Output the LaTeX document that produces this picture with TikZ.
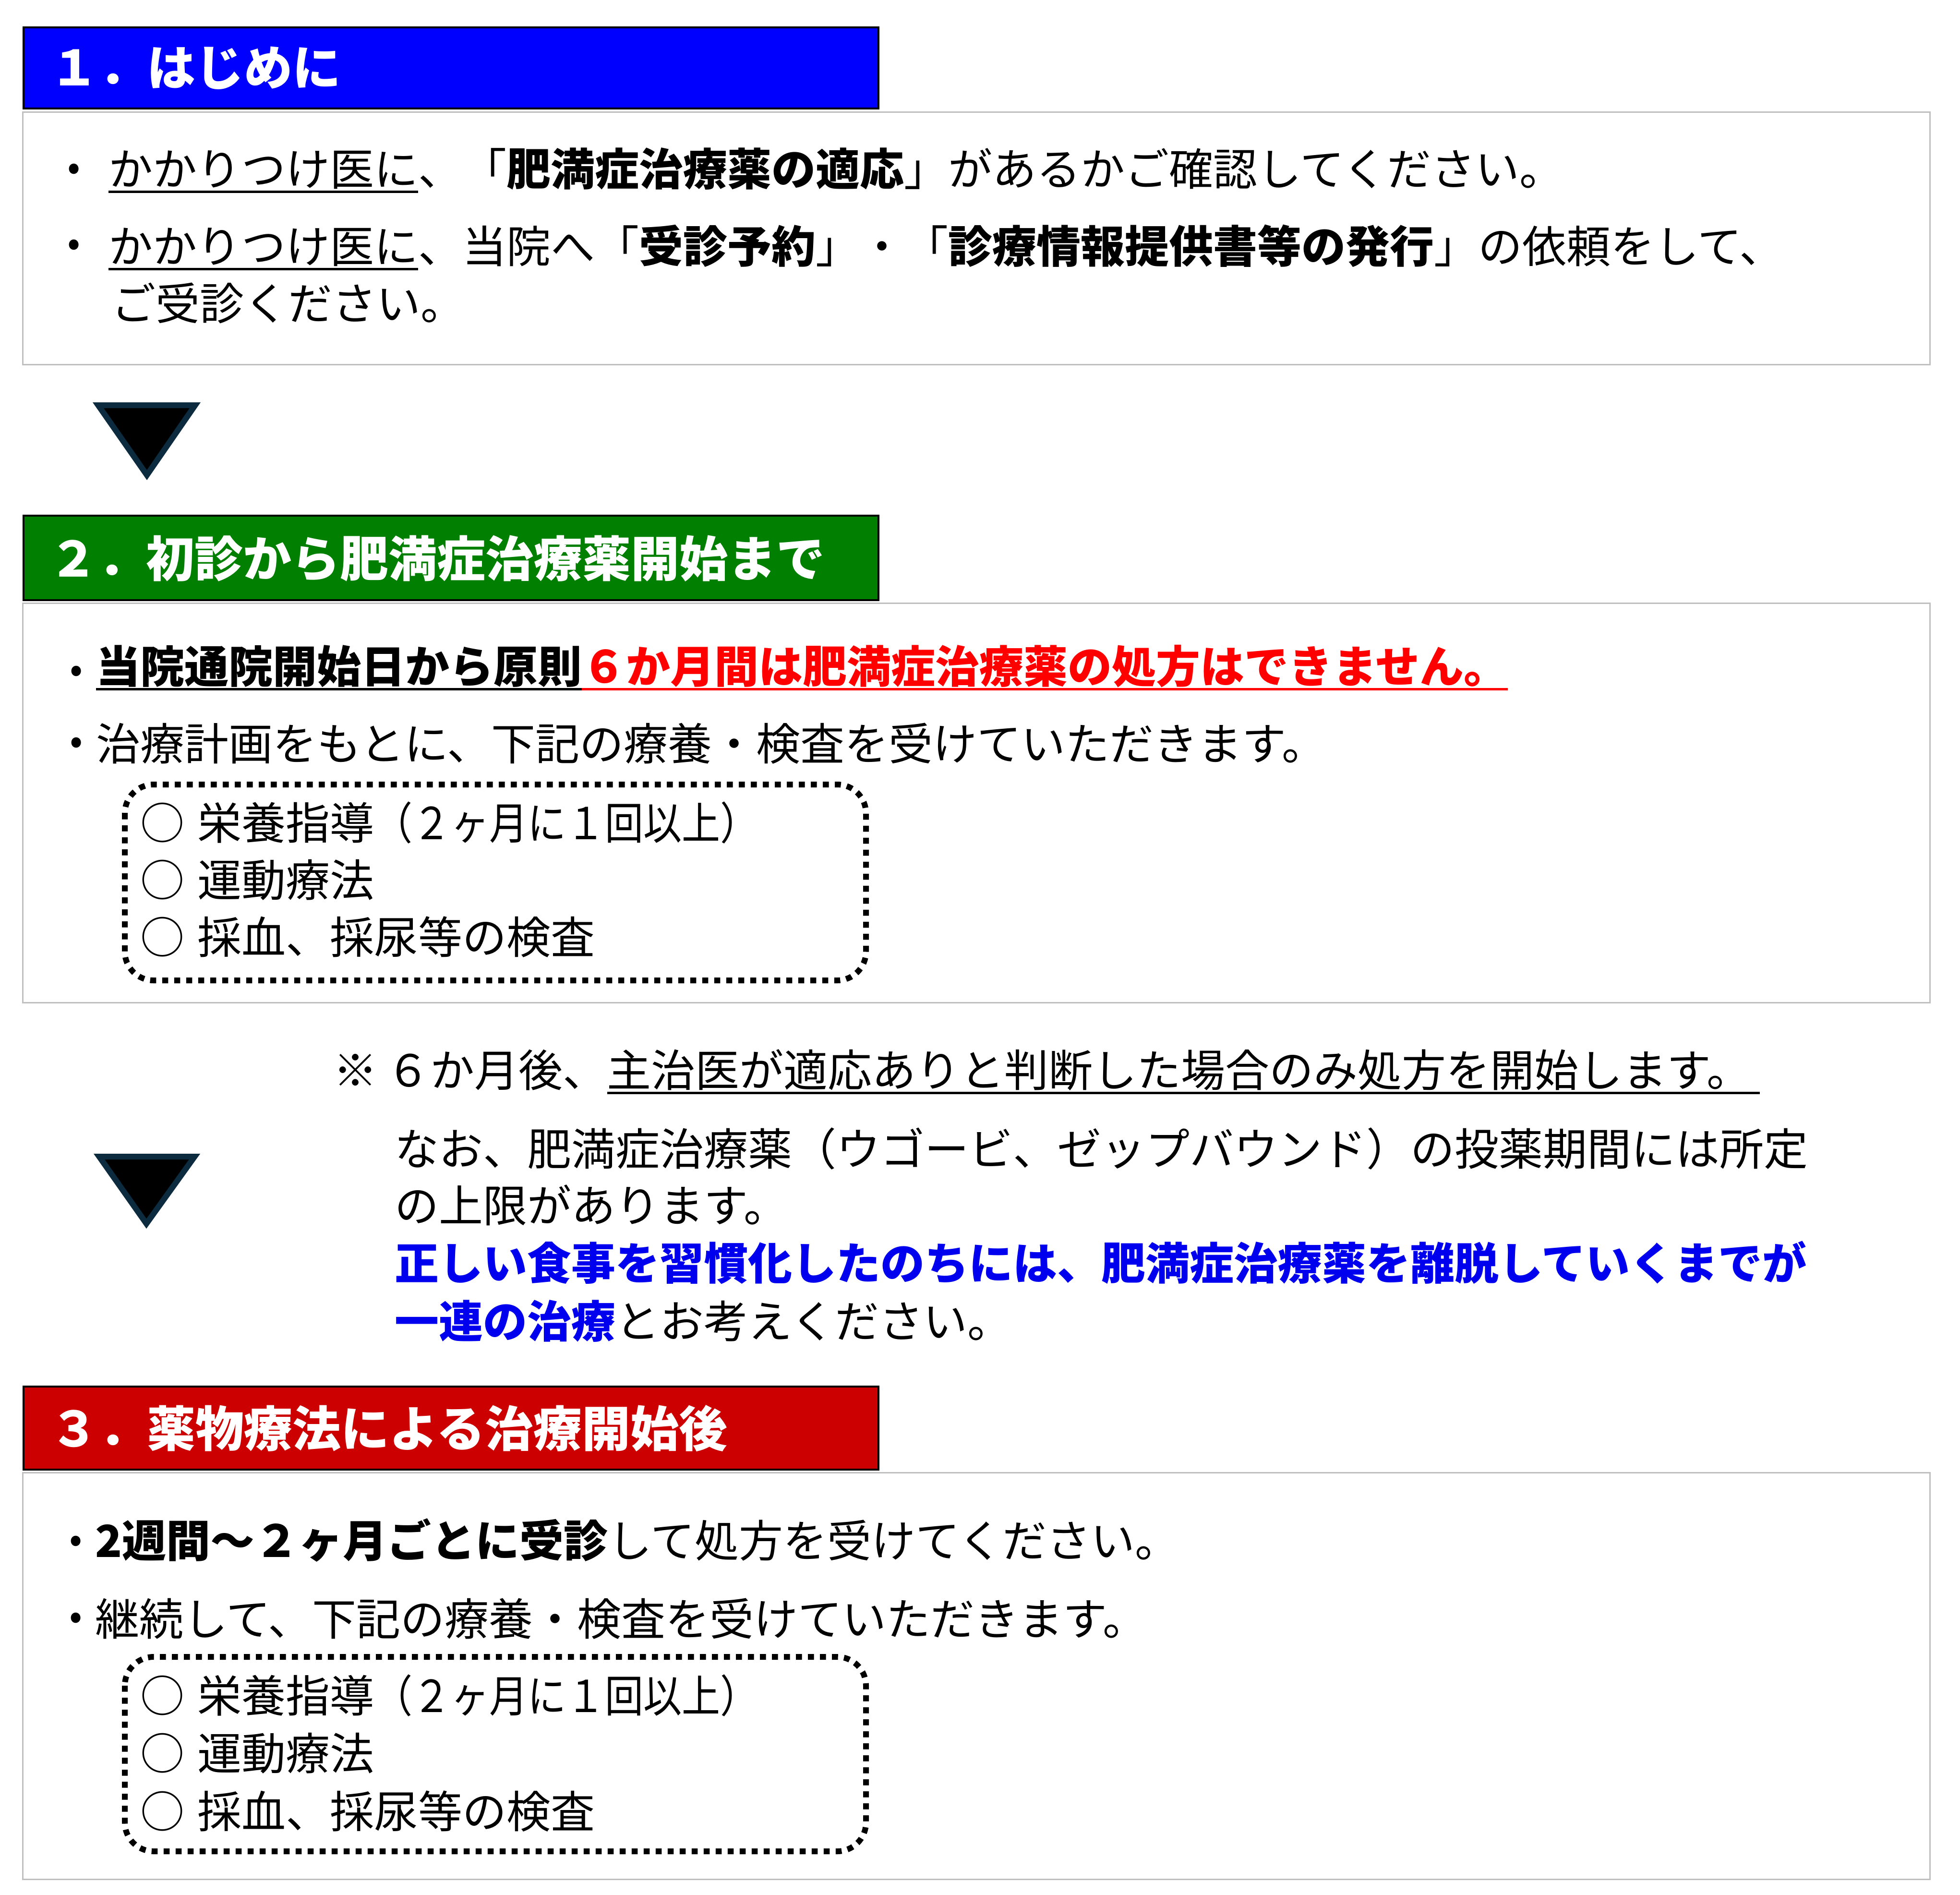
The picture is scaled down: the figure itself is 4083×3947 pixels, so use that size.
\documentclass[tikz,border=0pt]{standalone}
\usepackage{graphicx}
\usepackage{fontspec}
\setmainfont{Noto Sans CJK JP}
\definecolor{hblue}{HTML}{0000FF}
\definecolor{hgreen}{HTML}{007F00}
\definecolor{hred}{HTML}{CC0000}
\definecolor{tred}{HTML}{FF0000}
\definecolor{tblue}{HTML}{0000EE}
\definecolor{tricol}{HTML}{0D2B3E}
\definecolor{panelgray}{HTML}{BFBFBF}
\newsavebox\ulbox
\newcommand\myul[2][black]{\sbox\ulbox{#2}\rlap{\color{#1}\rule[-16pt]{\wd\ulbox}{5pt}}\usebox\ulbox}
\newcommand\narrowpar[1]{\scalebox{0.87}[1]{#1}}
\tikzset{
  txt/.style={anchor=base west, inner sep=0pt, font=\fontsize{92}{100}\selectfont},
  hdrtxt/.style={anchor=base west, inner sep=0pt, text=white, font=\fontsize{101}{110}\selectfont\bfseries},
  hdr/.style={draw=black, line width=4pt},
  panel/.style={draw=panelgray, line width=3pt},
  dotbox/.style={draw=black, line width=12pt, dash pattern=on 12.5pt off 12.5pt, rounded corners=60pt},
  tri/.style={draw=tricol, fill=black, line width=12pt, line join=miter},
  bul/.style={anchor=center, inner sep=0pt, font=\fontsize{80}{90}\selectfont}
}
\begin{document}
\begin{tikzpicture}[x=1pt,y=-1pt]
\useasboundingbox (0,0) rectangle (4083,3947);
\fill[white] (0,0) rectangle (4083,3947);
% panels
\draw[panel] (47,234) rectangle (4020,759);
\draw[panel] (47,1256) rectangle (4020,2088);
\draw[panel] (47,3067) rectangle (4020,3914);
% headers
\draw[hdr, fill=hblue] (49,57) rectangle (1830,226);
\draw[hdr, fill=hgreen] (49,1074) rectangle (1830,1250);
\draw[hdr, fill=hred] (49,2888) rectangle (1830,3061);
\node[hdrtxt] (h1) at (104,179) {１．はじめに};
\node[hdrtxt] (h2) at (102,1201) {２．初診から肥満症治療薬開始まで};
\node[hdrtxt] (h3) at (104,3013) {３．薬物療法による治療開始後};
% section 1
\node[bul] (b11) at (154,358) {•};
\node[bul] (b12) at (154,516) {•};
\node[txt] (t11) at (226,386) {\myul{かかりつけ医に}、「\textbf{肥満症治療薬の適応}」があるかご確認してください。};
\node[txt] (t12) at (226,547) {\myul{かかりつけ医に}、当院へ「\textbf{受診予約}」・「\textbf{診療情報提供書等の発行}」の依頼をして、};
\node[txt] (t13) at (232,666) {ご受診ください。};
% triangle 1
\filldraw[tri] (204.5,844) -- (406.5,844) -- (306,989.5) -- cycle;
% section 2
\node[bul] (b21) at (159,1404) {•};
\node[bul] (b22) at (159,1553) {•};
\node[txt] (t21) at (200,1422) {\textbf{\myul{当院通院開始日から原則}}\textcolor{tred}{\textbf{\myul[tred]{６か月間は肥満症治療薬の処方はできません。}}}};
\node[txt] (t22) at (200,1583) {治療計画をもとに、下記の療養・検査を受けていただきます。};
\draw[dotbox] (260,1634) rectangle (1804,2042);
\node[txt] (i21) at (292,1748) {○\hspace{0.3em}栄養指導\narrowpar{（２ヶ月に１回以上）}};
\node[txt] (i22) at (292,1867) {○\hspace{0.3em}運動療法};
\node[txt] (i23) at (292,1986) {○\hspace{0.3em}採血、採尿等の検査};
% middle note
\node[txt] (m1) at (694,2263) {※\hspace{0.2em}６か月後、\myul{主治医が適応ありと判断した場合のみ処方を開始します。\hspace{0.2em}}};
\node[txt] (m2) at (822,2427) {なお、肥満症治療薬（ウゴービ、ゼップバウンド）の投薬期間には所定};
\node[txt] (m3) at (822,2545) {の上限があります。};
\node[txt] (m4) at (822,2665) {\textcolor{tblue}{\textbf{正しい食事を習慣化したのちには、肥満症治療薬を離脱していくまでが}}};
\node[txt] (m5) at (822,2786) {\textcolor{tblue}{\textbf{一連の治療}}とお考えください。};
% triangle 2
\filldraw[tri] (206.6,2409) -- (405.4,2409) -- (305,2548.7) -- cycle;
% section 3
\node[bul] (b31) at (158,3216) {•};
\node[bul] (b32) at (158,3376) {•};
\node[txt] (t31) at (198,3243) {\textbf{2週間～２ヶ月ごとに受診}して処方を受けてください。};
\node[txt] (t32) at (198,3406) {継続して、下記の療養・検査を受けていただきます。};
\draw[dotbox] (260,3451) rectangle (1804,3856);
\node[txt] (i31) at (292,3566) {○\hspace{0.3em}栄養指導\narrowpar{（２ヶ月に１回以上）}};
\node[txt] (i32) at (292,3686) {○\hspace{0.3em}運動療法};
\node[txt] (i33) at (292,3807) {○\hspace{0.3em}採血、採尿等の検査};
\end{tikzpicture}
\end{document}
